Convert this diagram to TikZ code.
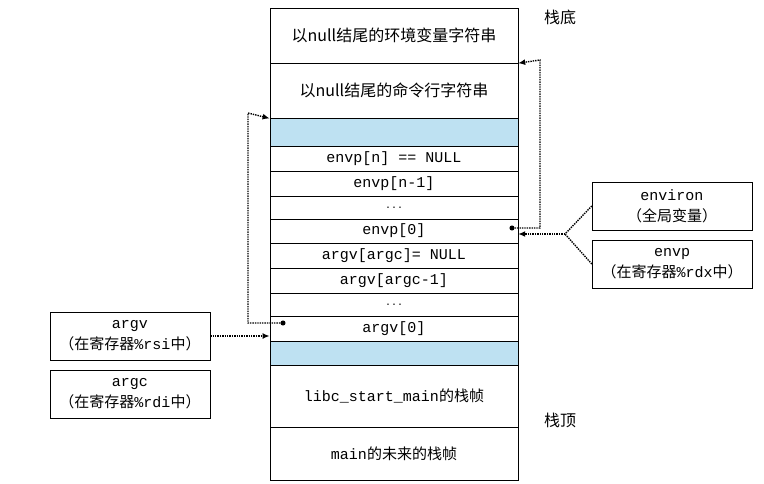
\documentclass[tikz,border=0pt]{standalone}
\usepackage{fontspec}
\setmainfont{Liberation Serif}
\setmonofont{Liberation Mono}
\newfontfamily\cjk{Noto Sans CJK SC}
\usetikzlibrary{arrows.meta,positioning}
\definecolor{stackblue}{RGB}{190, 225, 242}

\tikzset{
  cell/.style={draw, minimum width=248pt, inner sep=0pt, font=\ttfamily\fontsize{15}{17}\selectfont},
  infobox/.style={draw, minimum width=160pt, minimum height=48pt, align=center, inner sep=0pt, font=\fontsize{15}{21}\selectfont},
  pointer/.style={densely dotted, line width=1.4pt, -{Latex[length=7pt,width=6pt]}},
  ptrdot/.style={circle, fill, inner sep=1.8pt}
}

\begin{document}
\begin{tikzpicture}[x=1pt, y=-1pt]
            \useasboundingbox (0,0) rectangle (764,484);
            % Stack cells
            \node[cell, minimum height=55pt, font=\cjk\fontsize{16}{18}\selectfont] (envstr) at (394,35.5) {以null结尾的环境变量字符串};
            \node[cell, minimum height=55pt, thick, font=\cjk\fontsize{16}{18}\selectfont] (argstr) at (394,90.5) {以null结尾的命令行字符串};
            \node[cell, minimum height=28pt, fill=stackblue] (gapa) at (394,132) {};
            \node[cell, minimum height=25pt] (envn) at (394,158.5) {envp[n] == NULL};
            \node[cell, minimum height=25pt] (envnm) at (394,183.5) {envp[n-1]};
            \node[cell, minimum height=23pt] (envdots) at (394,207.5) {\fontsize{10}{10}\selectfont ...};
            \node[cell, minimum height=24pt] (envz) at (394,231) {envp[0]};
            \node[cell, minimum height=25pt] (argn) at (394,255.5) {argv[argc]= NULL};
            \node[cell, minimum height=25pt] (argnm) at (394,280.5) {argv[argc-1]};
            \node[cell, minimum height=23pt] (argdots) at (394,304.5) {\fontsize{10}{10}\selectfont ...};
            \node[cell, minimum height=25pt, thick] (argz) at (394,328.5) {argv[0]};
            \node[cell, minimum height=24pt, fill=stackblue] (gapb) at (394,353) {};
            \node[cell, minimum height=62pt] (libc) at (394,396) {libc\_start\_main{\cjk 的栈帧}};
            \node[cell, minimum height=53pt] (mainfr) at (394,453.5) {main{\cjk 的未来的栈帧}};

            % Side labels
            \node[font=\cjk\fontsize{16}{18}\selectfont] (bottom) at (560,17) {栈底};
            \node[font=\cjk\fontsize{16}{18}\selectfont] (top) at (560,420) {栈顶};

            % Pointer sources
            \node[infobox] (environ) at (672,206) {\ttfamily environ\\{\cjk（全局变量）}};
            \node[infobox] (envp) at (672,264) {\ttfamily envp\\{\cjk（在寄存器}\ttfamily\%rdx{\cjk 中）}};
            \node[infobox] (argv) at (130,336) {\ttfamily argv\\{\cjk（在寄存器}\ttfamily\%rsi{\cjk 中）}};
            \node[infobox] (argc) at (130,394) {\ttfamily argc\\{\cjk（在寄存器}\ttfamily\%rdi{\cjk 中）}};

            % Pointers
            \node[ptrdot] (envdot) at (512,228) {};
            \node[ptrdot] (argdot) at (283,323) {};
            \coordinate (join) at (565,234);
            \draw[densely dotted, line width=1.4pt] (environ.west) -- (join);
            \draw[densely dotted, line width=1.4pt] (envp.west) -- (join);
            \draw[pointer] (join) -- (envz.east |- join);
            \draw[pointer] (envdot) -| (540,60) -- (envstr.south east);
            \draw[pointer] (argdot) -| (248,113) -- (argstr.south west);
            \draw[pointer] (argv.east) -- (argz.west |- argv.east);
        \end{tikzpicture}
\end{document}
